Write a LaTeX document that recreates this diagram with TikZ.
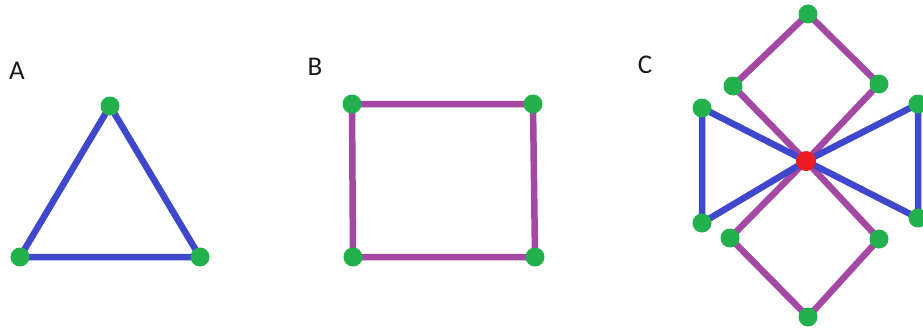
\documentclass[tikz,border=0pt]{standalone}
\usepackage{fontspec}
\setmainfont{Carlito}
\usetikzlibrary{backgrounds}
\definecolor{eblue}{HTML}{3F48CC}
\definecolor{epurple}{HTML}{A349A4}
\definecolor{vgreen}{HTML}{22B14C}
\definecolor{vred}{HTML}{ED1C24}
\tikzset{
  vdot/.style={circle,fill=vgreen,draw=none,minimum size=19pt,inner sep=0pt},
  cdot/.style={circle,fill=vred,draw=none,minimum size=20pt,inner sep=0pt},
  bedge/.style={draw=eblue,line width=6.5pt},
  pedge/.style={draw=epurple,line width=6.5pt},
  lbl/.style={font=\fontsize{27}{30}\selectfont,inner sep=0pt,text=black!90}
}
\begin{document}
\begin{tikzpicture}[x=1pt,y=-1pt]
\useasboundingbox (0,0) rectangle (923,329);
% labels
\node[lbl] (la) at (17,71) {A};
\node[lbl] (lb) at (315,67) {B};
\node[lbl] (lc) at (645,65) {C};
% A
\node[vdot] (a1) at (110,106) {};
\node[vdot] (a2) at (20,257) {};
\node[vdot] (a3) at (200,257) {};
% B
\node[vdot] (b1) at (352,104) {};
\node[vdot] (b2) at (533,104) {};
\node[vdot] (b3) at (535,257) {};
\node[vdot] (b4) at (353,257) {};
% C
\node[vdot] (ct) at (808,14) {};
\node[vdot] (cul) at (733,86) {};
\node[vdot] (cur) at (879,84) {};
\node[vdot] (clt) at (702,108) {};
\node[vdot] (clb) at (702,223) {};
\node[vdot] (crt) at (918,104) {};
\node[vdot] (crb) at (918,218) {};
\node[vdot] (cll) at (730,238) {};
\node[vdot] (clr) at (879,239) {};
\node[vdot] (cb) at (808,317) {};
\node[cdot] (cc) at (806,161) {};
\begin{scope}[on background layer]
  \draw[bedge] (a1.center) -- (a2.center) -- (a3.center) -- cycle;
  \draw[pedge] (b1.center) -- (b2.center) -- (b3.center) -- (b4.center) -- cycle;
  \draw[pedge] (cc.center) -- (cul.center) -- (ct.center) -- (cur.center) -- cycle;
  \draw[pedge] (cc.center) -- (cll.center) -- (cb.center) -- (clr.center) -- cycle;
  \draw[bedge] (cc.center) -- (clt.center) -- (clb.center) -- cycle;
  \draw[bedge] (cc.center) -- (crt.center) -- (crb.center) -- cycle;
\end{scope}
\end{tikzpicture}
\end{document}
